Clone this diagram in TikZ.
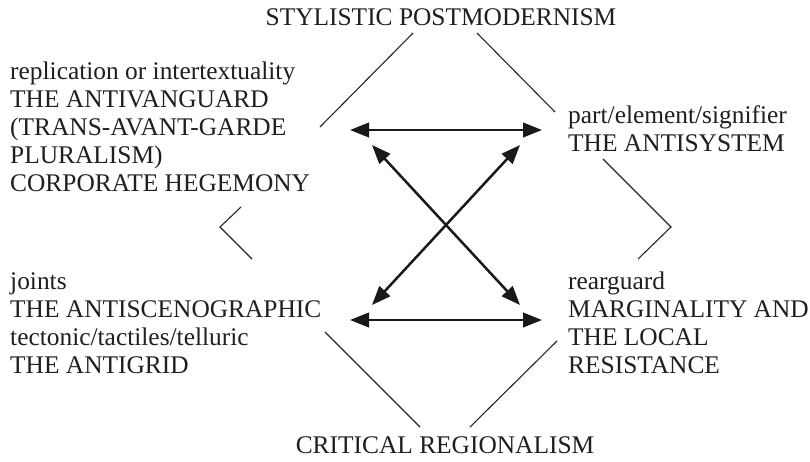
\documentclass[tikz,border=0pt]{standalone}
\usepackage{fontspec}
\setmainfont{Liberation Serif}
\usetikzlibrary{arrows.meta}
\begin{document}
\begin{tikzpicture}[x=1pt,y=-1pt,
  txt/.style={font=\fontsize{25.4}{28}\selectfont, text=black!88, inner sep=0pt, anchor=base west},
  ttl/.style={font=\fontsize{25.4}{28}\selectfont, text=black!88, inner sep=0pt, anchor=base},
  thin/.style={draw=black!85, line width=1.1pt},
  dbl/.style={draw=black!90, line width=2.5pt, {Triangle[length=19pt,width=14.5pt]}-{Triangle[length=19pt,width=14.5pt]}}]
\useasboundingbox (0,0) rectangle (810,461);
\fill[white] (0,0) rectangle (810,461);

% headings
\node[ttl] (top) at (441,25) {STYLISTIC POSTMODERNISM};
\node[ttl] (bot) at (445,453) {CRITICAL REGIONALISM};

% upper left block
\node[txt] (ul1) at (10,79)  {replication or intertextuality};
\node[txt] (ul2) at (10,107) {THE ANTIVANGUARD};
\node[txt] (ul3) at (10,135) {(TRANS-AVANT-GARDE};
\node[txt] (ul4) at (10,163) {PLURALISM)};
\node[txt] (ul5) at (10,191) {CORPORATE HEGEMONY};

% upper right block
\node[txt] (ur1) at (568,123) {part/element/signifier};
\node[txt] (ur2) at (568,151) {THE ANTISYSTEM};

% lower left block
\node[txt] (ll1) at (10,289) {joints};
\node[txt] (ll2) at (10,317) {THE ANTISCENOGRAPHIC};
\node[txt] (ll3) at (10,345) {tectonic/tactiles/telluric};
\node[txt] (ll4) at (10,373) {THE ANTIGRID};

% lower right block
\node[txt] (lr1) at (568,289) {rearguard};
\node[txt] (lr2) at (568,317) {MARGINALITY AND};
\node[txt] (lr3) at (568,345) {THE LOCAL};
\node[txt] (lr4) at (568,373) {RESISTANCE};

% end points of the thin frame lines
\coordinate (tl1) at (413,33);  \coordinate (tl2) at (320,127);
\coordinate (tr1) at (477,33);  \coordinate (tr2) at (555,112);
\coordinate (lc1) at (241,207); \coordinate (lc2) at (220,227); \coordinate (lc3) at (252,259);
\coordinate (rc1) at (603,159); \coordinate (rc2) at (671,227); \coordinate (rc3) at (638,259);
\coordinate (bl1) at (325,332); \coordinate (bl2) at (420,427);
\coordinate (br1) at (557,341); \coordinate (br2) at (470,427);

\draw[thin] (tl1) -- (tl2);
\draw[thin] (tr1) -- (tr2);
\draw[thin] (lc1) -- (lc2) -- (lc3);
\draw[thin] (rc1) -- (rc2) -- (rc3);
\draw[thin] (bl1) -- (bl2);
\draw[thin] (br1) -- (br2);

% arrow end points
\coordinate (aUL) at (350,130); \coordinate (aUR) at (542,130);
\coordinate (aLL) at (350,320); \coordinate (aLR) at (542,320);
\coordinate (dUL) at (372,145); \coordinate (dUR) at (520,145);
\coordinate (dLL) at (372,305); \coordinate (dLR) at (520,305);

\draw[dbl] (aUL) -- (aUR);
\draw[dbl] (aLL) -- (aLR);
\draw[dbl] (dUL) -- (dLR);
\draw[dbl] (dUR) -- (dLL);
\end{tikzpicture}
\end{document}
